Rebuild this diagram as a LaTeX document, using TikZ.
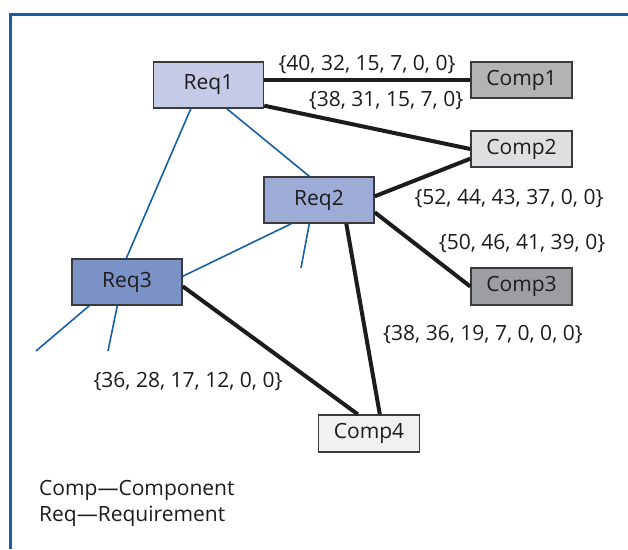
\documentclass[tikz,border=0pt]{standalone}
\usepackage{fontspec}
\setmainfont{Open Sans}
\usetikzlibrary{calc}

\definecolor{frameblue}{HTML}{1A5DA6}
\definecolor{linkblue}{HTML}{1560A8}
\definecolor{inkgray}{HTML}{1E1B1C}
\definecolor{edgegray}{HTML}{3A3A3C}
\definecolor{reqA}{HTML}{C5CBE6}
\definecolor{reqB}{HTML}{9DACD6}
\definecolor{reqC}{HTML}{7B92C6}
\definecolor{compA}{HTML}{B3B3B5}
\definecolor{compB}{HTML}{DFDFE1}
\definecolor{compC}{HTML}{9D9EA1}
\definecolor{compD}{HTML}{F1F1F3}

\tikzset{
  basefont/.style={font=\fontsize{21}{25}\selectfont, text=inkgray},
  reqbox/.style={basefont, draw=edgegray, line width=1.4pt, minimum width=110pt,
    minimum height=46pt, inner sep=0pt},
  compbox/.style={basefont, draw=edgegray, line width=1.4pt, minimum width=101pt,
    minimum height=36pt, inner sep=0pt},
  weight/.style={basefont, inner sep=0pt},
  legend/.style={basefont, inner sep=0pt, anchor=west},
  trace/.style={draw=linkblue, line width=1.6pt},
  alloc/.style={draw=inkgray, line width=4pt},
  framerule/.style={draw=frameblue, line width=3pt}
}

\begin{document}
\begin{tikzpicture}[x=1pt,y=-1pt]
\useasboundingbox (0,0) rectangle (628,549);

% outer frame: top and left rules only
\coordinate (fTL) at (10.5,14.5);
\coordinate (fTR) at (628,14.5);
\coordinate (fBL) at (10.5,549);
\draw[framerule] (fTR) -- (fTL) -- (fBL);

% requirement nodes
\node[reqbox, fill=reqA] (Req1) at (208.5,85) {Req1};
\node[reqbox, fill=reqB] (Req2) at (319,200) {Req2};
\node[reqbox, fill=reqC] (Req3) at (127,282) {Req3};

% component nodes
\node[compbox, fill=compA] (Comp1) at (521.5,80) {Comp1};
\node[compbox, fill=compB] (Comp2) at (521.5,149) {Comp2};
\node[compbox, fill=compC, minimum height=37pt] (Comp3) at (521.5,286.5) {Comp3};
\node[compbox, fill=compD, minimum height=37pt] (Comp4) at (369,433.5) {Comp4};

% loose ends of the requirement traces
\coordinate (tA) at (301,268);
\coordinate (tB) at (36,351);
\coordinate (tC) at (108,351);

% requirement traces (thin blue)
\draw[trace] ($(Req1.south west)+(38,0)$) -- ($(Req3.north west)+(55,0)$);
\draw[trace] ($(Req1.south west)+(74,0)$) -- ($(Req2.north west)+(46,0)$);
\draw[trace] ($(Req2.south west)+(28,0)$) -- ($(Req3.north east)+(0,18)$);
\draw[trace] ($(Req2.south west)+(46,0)$) -- (tA);
\draw[trace] ($(Req3.south west)+(18,0)$) -- (tB);
\draw[trace] ($(Req3.south west)+(46,0)$) -- (tC);

% allocations to components (thick black)
\draw[alloc] (Req1.east |- Comp1.west) -- (Comp1.west);
\draw[alloc] ($(Req1.south east)+(0,-3)$) -- (Comp2.west);
\draw[alloc] ($(Req2.north east)+(0,20)$) -- ($(Comp2.south west)+(0,-9)$);
\draw[alloc] ($(Req2.north east)+(0,36)$) -- (Comp3.west);
\draw[alloc] ($(Req2.south west)+(83,0)$) -- ($(Comp4.north west)+(62,0)$);
\draw[alloc] ($(Req3.north east)+(0,28)$) -- ($(Comp4.north west)+(40,0)$);

% weight vectors
\node[weight] (w1) at (367,65) {\{40, 32, 15, 7, 0, 0\}};
\node[weight] (w2) at (386,101) {\{38, 31, 15, 7, 0\}};
\node[weight] (w3) at (509,199) {\{52, 44, 43, 37, 0, 0\}};
\node[weight] (w4) at (522,244) {\{50, 46, 41, 39, 0\}};
\node[weight] (w5) at (483,335) {\{38, 36, 19, 7, 0, 0, 0\}};
\node[weight] (w6) at (188,381.5) {\{36, 28, 17, 12, 0, 0\}};

% legend
\node[legend] (leg1) at (39,490) {Comp—Component};
\node[legend] (leg2) at (39,516) {Req—Requirement};
\end{tikzpicture}
\end{document}
